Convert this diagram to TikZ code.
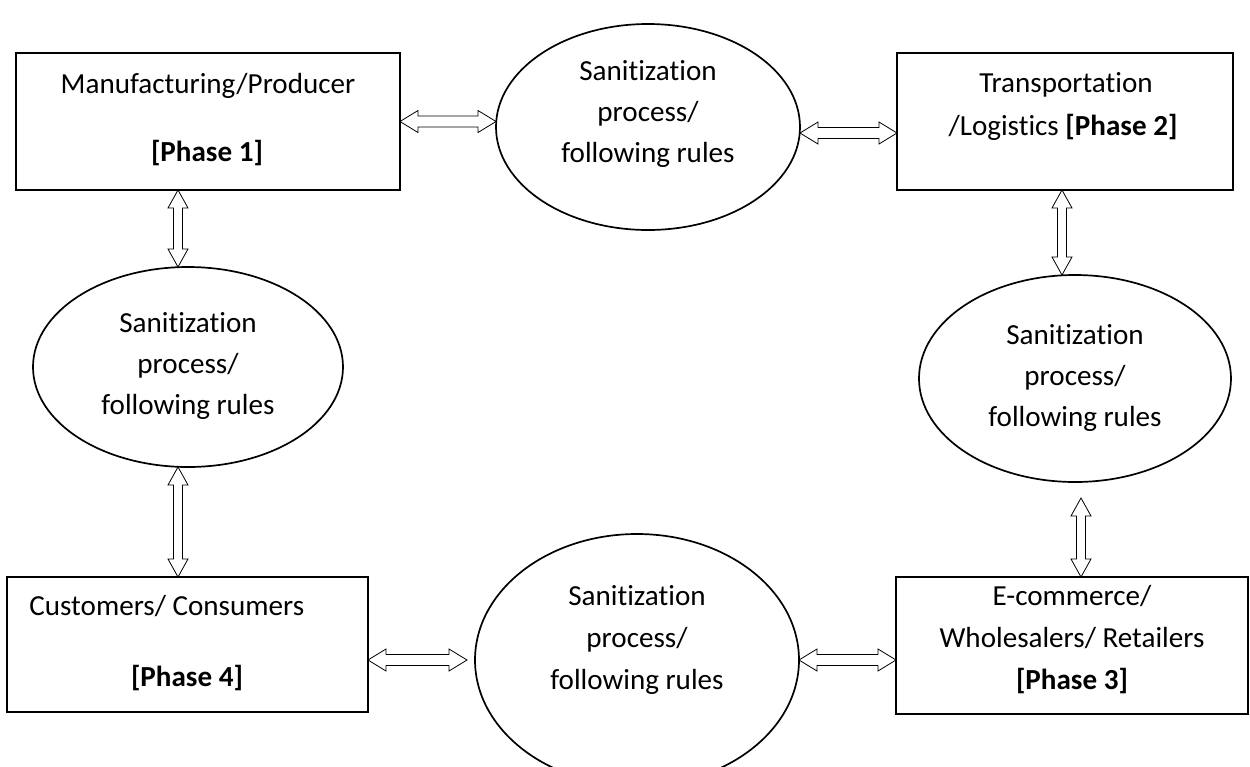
\documentclass[tikz,border=0pt]{standalone}
\usepackage{fontspec}
\setmainfont{Carlito}[Ligatures=NoCommon]
\usetikzlibrary{shapes.geometric,calc}
\begin{document}
\begin{tikzpicture}[x=0.5pt,y=-0.5pt,
  box/.style={draw, line width=1.1pt, rectangle, inner sep=0pt, outer sep=0pt},
  oval/.style={draw, line width=0.85pt, ellipse, inner sep=0pt, outer sep=0pt},
  txt/.style={inner sep=0pt, anchor=base, font=\fontsize{14.55pt}{20.5pt}\selectfont},
  harrow/.style={line width=1pt, line join=miter, to path={let \p1=(\tikztostart), \p2=(\tikztotarget) in
     (\x1,\y1) -- (\x1+9pt,\y1+5.5pt) -- (\x1+9pt,\y1+2.75pt) -- (\x2-9pt,\y1+2.75pt) -- (\x2-9pt,\y1+5.5pt) -- (\x2,\y1)
     -- (\x2-9pt,\y1-5.5pt) -- (\x2-9pt,\y1-2.75pt) -- (\x1+9pt,\y1-2.75pt) -- (\x1+9pt,\y1-5.5pt) -- cycle}},
  varrow/.style={line width=1pt, line join=miter, to path={let \p1=(\tikztostart), \p2=(\tikztotarget) in
     (\x1,\y1) -- (\x1+5pt,\y1-9pt) -- (\x1+2.25pt,\y1-9pt) -- (\x1+2.25pt,\y2+9pt) -- (\x1+5pt,\y2+9pt) -- (\x1,\y2)
     -- (\x1-5pt,\y2+9pt) -- (\x1-2.25pt,\y2+9pt) -- (\x1-2.25pt,\y1-9pt) -- (\x1-5pt,\y1-9pt) -- cycle}}
]
\fill[white] (0,0) rectangle (1250,767);
\clip (0,0) rectangle (1250,767);

% boxes
\node[box, minimum width=192pt, minimum height=68.5pt] (b1) at (208,121.5) {};
\node[box, minimum width=168pt, minimum height=68.5pt] (b2) at (1065,121.5) {};
\node[box, minimum width=176pt, minimum height=68.5pt] (b3) at (1072,645.5) {};
\node[box, minimum width=180.5pt, minimum height=67.5pt] (b4) at (187.5,644.5) {};

% ellipses
\node[oval, minimum width=152pt, minimum height=103pt] (e1) at (648,127) {};
\node[oval, minimum width=155pt, minimum height=100pt] (e2) at (188,367) {};
\node[oval, minimum width=156pt, minimum height=103.5pt] (e3) at (1075,378.5) {};
\node[oval, minimum width=162pt, minimum height=126pt] (e4) at (637,660) {};

% box texts
\node[txt] (b1a) at (208,93) {Manufacturing/Producer};
\node[txt] (b1b) at (207,161) {\textbf{[Phase 1]}};
\node[txt] (b2a) at (1066,92) {Transportation};
\node[txt] (b2b) at (1063,135) {/Logistics \textbf{[Phase 2]}};
\node[txt] (b3a) at (1072,605) {E-commerce/};
\node[txt] (b3b) at (1072,647) {Wholesalers/ Retailers};
\node[txt] (b3c) at (1072,689) {\textbf{[Phase 3]}};
\node[txt, anchor=base west] (b4a) at (29,615) {Customers/ Consumers};
\node[txt] (b4b) at (187,686) {\textbf{[Phase 4]}};

% ellipse texts
\node[txt] (e1a) at (648,80) {Sanitization};
\node[txt] (e1b) at (648,121) {process/};
\node[txt] (e1c) at (648,162) {following rules};
\node[txt] (e2a) at (188,332) {Sanitization};
\node[txt] (e2b) at (188,373) {process/};
\node[txt] (e2c) at (188,414) {following rules};
\node[txt] (e3a) at (1075,344) {Sanitization};
\node[txt] (e3b) at (1075,385) {process/};
\node[txt] (e3c) at (1075,426) {following rules};
\node[txt] (e4a) at (637,605) {Sanitization};
\node[txt] (e4b) at (637,647) {process/};
\node[txt] (e4c) at (637,689) {following rules};

% connectors
\draw (b1.east) to[harrow] (b1.east -| e1.west);
\draw ([yshift=-3pt]e1.east) to[harrow] ([yshift=-3pt]e1.east -| b2.west);
\draw ([xshift=-15pt]b1.south) to[varrow] ([xshift=-15pt]b1.south |- e2.north);
\draw ([xshift=-5pt]e2.south) to[varrow] ([xshift=-5pt]e2.south |- b4.north);
\draw ([xshift=-1.5pt]b2.south) to[varrow] ([xshift=-1.5pt]b2.south |- e3.north);
\draw ([xshift=3pt,yshift=-8pt]e3.south) to[varrow] ([xshift=3pt]e3.south |- b3.north);
\draw ([yshift=-7.75pt]b4.east) to[harrow] ([xshift=-4pt]e4.west);
\draw (e4.east) to[harrow] (e4.east -| b3.west);
\end{tikzpicture}
\end{document}
